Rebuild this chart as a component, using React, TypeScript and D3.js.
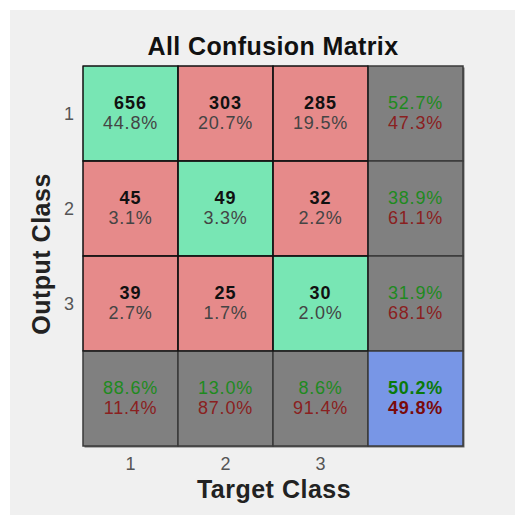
import React, { useEffect, useRef } from 'react';
import * as d3 from 'd3';

const classes = ['1', '2', '3'];
// rows = output class, columns = target class
const counts = [
  [656, 303, 285],
  [45, 49, 32],
  [39, 25, 30],
];
const title = 'All Confusion Matrix';
const xTitle = 'Target Class';
const yTitle = 'Output Class';

const FONT = '"Liberation Sans", Arial, sans-serif';

const App = () => {
  const ref = useRef<SVGSVGElement>(null);

  useEffect(() => {
    const svg = d3.select(ref.current);
    svg.selectAll('*').remove();

    const n = classes.length;
    const total = d3.sum(counts.flat());
    const fmt = d3.format('.1%');
    const idx = d3.range(n + 1).map(String);

    const x = d3.scaleBand().domain(idx).range([83, 463]);
    const y = d3.scaleBand().domain(idx).range([66, 446]);
    const bw = x.bandwidth();

    svg.append('rect').attr('x', 10).attr('y', 10).attr('width', 505).attr('height', 505).attr('fill', '#f0f0f0');

    // shadow
    svg.append('rect')
      .attr('x', 84.5).attr('y', 67.5).attr('width', 380).attr('height', 380)
      .attr('fill', '#333').attr('opacity', 0.7);

    const cells: any[] = [];
    for (let r = 0; r <= n; r++) {
      for (let c = 0; c <= n; c++) {
        let fill: string, kind: string;
        if (r === n && c === n) { fill = '#7896e6'; kind = 'total'; }
        else if (r === n || c === n) { fill = '#808080'; kind = 'summary'; }
        else if (r === c) { fill = '#78e6b4'; kind = 'cell'; }
        else { fill = '#e68a8a'; kind = 'cell'; }
        let top = '', bottom = '';
        if (kind === 'cell') {
          top = String(counts[r][c]);
          bottom = fmt(counts[r][c] / total);
        } else if (kind === 'summary') {
          const v = r === n ? d3.sum(counts, (row) => row[c]) : d3.sum(counts[r]);
          const good = counts[r === n ? c : r][r === n ? c : r];
          top = fmt(good / v);
          bottom = fmt(1 - good / v);
        } else {
          const good = d3.sum(d3.range(n), (i) => counts[i][i]);
          top = fmt(good / total);
          bottom = fmt(1 - good / total);
        }
        cells.push({ r, c, fill, kind, top, bottom });
      }
    }

    const g = svg.append('g');
    g.selectAll('rect.cell').data(cells).enter().append('rect')
      .attr('x', (d) => x(String(d.c))!)
      .attr('y', (d) => y(String(d.r))!)
      .attr('width', bw).attr('height', bw)
      .attr('fill', (d) => d.fill)
      .attr('stroke', (d) => (d.kind === 'cell' ? '#111' : '#3a3a3a'))
      .attr('stroke-width', (d) => (d.kind === 'cell' ? 1 : 1.5));

    // redraw colored cell borders on top
    g.selectAll('rect.inner').data(cells.filter((d) => d.kind === 'cell')).enter().append('rect')
      .attr('x', (d) => x(String(d.c))!)
      .attr('y', (d) => y(String(d.r))!)
      .attr('width', bw).attr('height', bw)
      .attr('fill', 'none').attr('stroke', '#111').attr('stroke-width', 1);

    const txt = g.selectAll('g.t').data(cells).enter().append('g')
      .attr('transform', (d) => `translate(${x(String(d.c))! + bw / 2},${y(String(d.r))! + bw / 2})`)
      .attr('font-family', FONT).attr('text-anchor', 'middle');

    txt.append('text')
      .attr('y', -5)
      .attr('font-size', 18)
      .attr('letter-spacing', (d) => (d.kind === 'cell' ? 1 : 0.8))
      .attr('font-weight', (d) => (d.kind === 'summary' ? 'normal' : 'bold'))
      .attr('fill', (d) => (d.kind === 'cell' ? '#111' : d.kind === 'total' ? '#0a7a0a' : '#1e8a1e'))
      .text((d) => d.top);

    txt.append('text')
      .attr('y', 15.5)
      .attr('font-size', 18)
      .attr('letter-spacing', 0.8)
      .attr('font-weight', (d) => (d.kind === 'total' ? 'bold' : 'normal'))
      .attr('fill', (d) => (d.kind === 'cell' ? '#444' : d.kind === 'total' ? '#7a0a0a' : '#8a2020'))
      .text((d) => d.bottom);

    // ticks
    svg.append('g').selectAll('text').data(classes).enter().append('text')
      .attr('x', (d, i) => x(String(i))! + bw / 2).attr('y', 470)
      .attr('text-anchor', 'middle').attr('font-family', FONT).attr('font-size', 18).attr('fill', '#555')
      .text((d) => d);
    svg.append('g').selectAll('text').data(classes).enter().append('text')
      .attr('x', 69).attr('y', (d, i) => y(String(i))! + bw / 2 + 6)
      .attr('text-anchor', 'middle').attr('font-family', FONT).attr('font-size', 18).attr('fill', '#555')
      .text((d) => d);

    svg.append('text').attr('x', 273).attr('y', 55).attr('text-anchor', 'middle')
      .attr('font-family', FONT).attr('font-size', 25).attr('font-weight', 'bold').attr('fill', '#111')
      .attr('letter-spacing', 0.4)
      .text(title);
    svg.append('text').attr('x', 274).attr('y', 498).attr('text-anchor', 'middle')
      .attr('font-family', FONT).attr('font-size', 25).attr('font-weight', 'bold').attr('fill', '#222')
      .attr('letter-spacing', 0.5)
      .text(xTitle);
    svg.append('text').attr('transform', 'translate(50,254) rotate(-90)').attr('text-anchor', 'middle')
      .attr('font-family', FONT).attr('font-size', 25).attr('font-weight', 'bold').attr('fill', '#222')
      .attr('letter-spacing', 0.5)
      .text(yTitle);
  }, []);

  return (
    <svg ref={ref} width={515} height={515} style={{ position: 'absolute', left: 0, top: 0 }} />
  );
};

export default App;
